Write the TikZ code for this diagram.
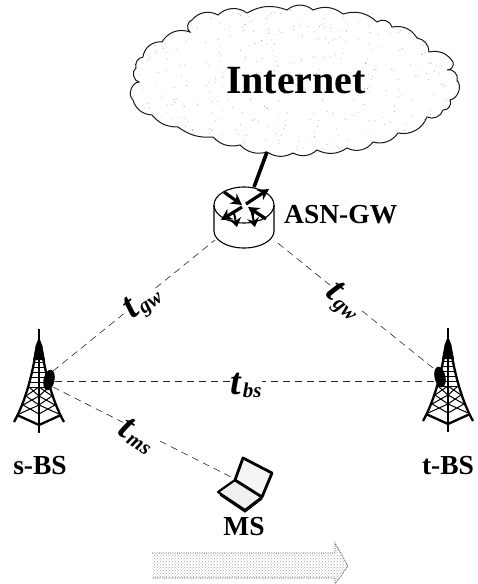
\documentclass[tikz,border=0pt]{standalone}
\usepackage{fontspec}
\setmainfont{Liberation Serif}
\usetikzlibrary{arrows.meta,patterns,shapes.geometric}
\newcommand{\tsb}[1]{\kern2pt\raisebox{-3pt}{\fontsize{21}{21}\selectfont #1}}
\tikzset{
  link/.style={dash pattern=on 7pt off 5pt,line width=.6pt,black!85},
  cloudline/.style={line width=1pt,black!90},
  lab/.style={font=\bfseries\fontsize{27.5}{28}\selectfont,inner sep=0pt},
  tlab/.style={font=\bfseries\itshape\fontsize{38}{38}\selectfont,inner sep=0pt,fill=white},
  blob/.style={ellipse,fill=black,minimum width=11pt,minimum height=21pt,inner sep=0pt},
  rarrow/.style={line width=3.2pt,-{Stealth[length=11pt,width=12pt]}},
  tower/.pic={
    \draw[line width=2pt] (0,0)--(0,104);
    \fill (0,8)--(3,16)--(6,31)--(-6,31)--(-3,16)--cycle;
    \draw[line width=2.3pt] (-2,16) .. controls (-7,50) and (-15,75) .. (-25,93);
    \draw[line width=2.3pt] (2,16) .. controls (7,50) and (15,75) .. (25,93);
    \draw[line width=2.3pt] (-22,86)--(0,96)--(22,86);
    \foreach \yy/\xx in {33/6,38/7,43/8,48/9,53/10,58/11}{\draw[line width=1pt] (-\xx,\yy)--(\xx,\yy);}
    \foreach \ya/\xa/\yb/\xb in {58/10/67/13,67/13/76/16,76/16/85/20}{
      \draw[line width=1pt] (-\xa,\ya)--(0,\yb) (\xa,\ya)--(0,\yb)
        (-\xb,\yb)--(0,\ya) (\xb,\yb)--(0,\ya);
    }
  }
}
\begin{document}
\begin{tikzpicture}[x=1pt,y=-1pt]
\useasboundingbox (0,0) rectangle (478,584);
% cloud
\def\cloudpath{(133,100) to[bend left=70] (139,82) to[bend left=70] (136,68) to[bend left=50] (143,57)
 to[bend left=45] (162,42) to[bend left=40] (190,32) to[bend left=70] (192,20)
 to[bend left=40] (218,15) to[bend left=40] (247,13) to[bend left=25] (287,10)
 to[bend left=40] (313,10) to[bend left=30] (343,14) to[bend left=30] (377,22)
 to[bend left=60] (392,27) to[bend left=35] (417,38) to[bend left=40] (429,52)
 to[bend left=35] (453,62) to[bend left=60] (447,70) to[bend left=70] (457,80)
 to[bend left=60] (450,100) to[bend left=70] (443,110) to[bend left=50] (427,117)
 to[bend left=40] (398,133) to[bend left=35] (373,142) to[bend left=40] (347,148)
 to[bend left=30] (317,150) to[bend left=35] (293,153) to[bend left=30] (267,152)
 to[bend left=30] (240,145) to[bend left=30] (213,137) to[bend left=20] (178,127)
 to[bend left=25] (152,115) to[bend left=35] (133,100)}
\begin{scope}
 \expandafter\clip\cloudpath;
 \pgfmathsetseed{7}
 \foreach \i in {1,...,420}{
   \pgfmathsetmacro\px{130+330*rnd}
   \pgfmathsetmacro\py{8+146*rnd}
   \fill[black!40] (\px,\py) circle[radius=.45pt];
 }
\end{scope}
\begin{scope}[cloudline]
 \expandafter\draw\cloudpath;
\end{scope}
\node[font=\bfseries\fontsize{40}{40}\selectfont,inner sep=0pt] (inet) at (296,81) {Internet};
% router
\coordinate (rt) at (244,205);
\draw[line width=1.1pt] (rt) ellipse[x radius=30,y radius=18];
\draw[line width=1.1pt] (214,205)--(214,231) arc[start angle=180,end angle=0,x radius=30,y radius=17]--(274,205);
\draw[rarrow] (224,192)--(242,205);
\draw[rarrow] (266,219)--(248,207);
\draw[rarrow] (246,204)--(269,189);
\draw[rarrow] (242,207)--(221,220);
\draw[line width=2pt,-{Stealth[length=9pt,width=12pt]}] (234,213)--(237,227);
\draw[line width=2pt,-{Stealth[length=9pt,width=12pt]}] (252,213)--(255,227);
\coordinate (rl) at (215,240);
\coordinate (rr) at (274,240);
\coordinate (rtop) at (254,187);
\coordinate (ctop) at (267,152);
\draw[line width=3.6pt] (ctop)--(rtop);
\node[lab,anchor=west] (asn) at (284,215) {ASN-GW};
% towers
\pic at (39,329) {tower};
\pic at (448,328) {tower};
\node[blob,rotate=-12] (sb) at (49,380) {};
\node[blob,rotate=12] (tb) at (440,377) {};
\coordinate (sa) at (53,371);
\coordinate (sh) at (55,381);
\coordinate (sm) at (53,387);
\coordinate (ta) at (433,368);
\coordinate (th) at (436,381);
\node[lab] (sl) at (40,466) {s-BS};
\node[lab] (tr) at (448,466) {t-BS};
% laptop
\coordinate (lp) at (235,479);
\fill[black!6] (235,480)--(262,497)--(245,510)--(218,492)--cycle;
\draw[line width=2.2pt,line join=round] (235,480)--(262,497)--(245,510)--(218,492)--cycle;
\draw[line width=2.8pt,line join=round,fill=black!4] (235,480)--(243,458)--(272,473)--(262,497)--cycle;
\draw[line width=1.2pt] (220,495)--(245,512)--(262,499);
\node[lab] (ms) at (244,527) {MS};
% links
\draw[link] (sa)--(rl);
\draw[link] (ta)--(rr);
\draw[link] (sh)--(th);
\draw[link] (sm)--(lp);
% t labels
\node[tlab,rotate=37] (t1) at (143,303) {t\tsb{gw}};
\node[tlab,rotate=-42] (t2) at (343,302) {t\tsb{gw}};
\node[tlab] (t3) at (246,385) {t\tsb{bs}};
\node[tlab,rotate=-33] (t4) at (137,436) {t\tsb{ms}};
% arrow
\path[pattern=crosshatch dots,pattern color=black!35] (152,553)--(335,553)--(335,543)--(348,566)--(335,584)--(335,578)--(152,578)--cycle;
\draw[densely dotted,line width=.8pt,black!70] (152,553)--(335,553)--(335,543)--(348,566)--(335,584)--(335,578)--(152,578);
\end{tikzpicture}
\end{document}
